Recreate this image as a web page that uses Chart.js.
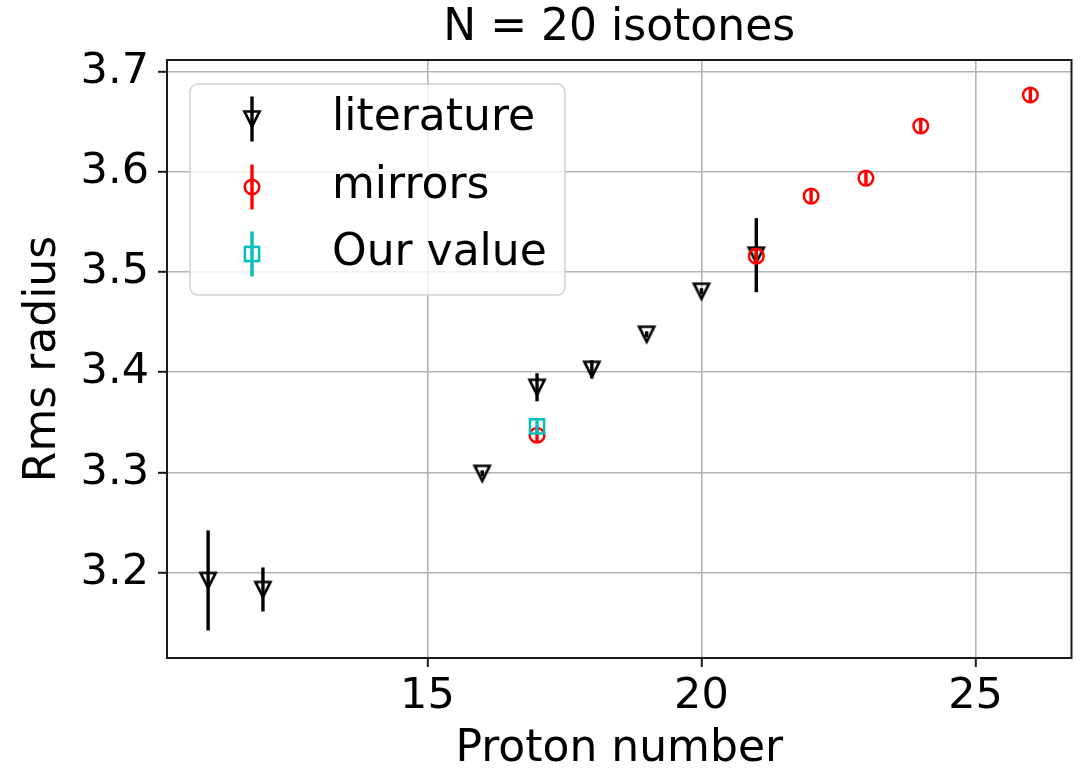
<!DOCTYPE html>
<html>
<head>
<meta charset="utf-8">
<title>N = 20 isotones</title>
<script src="https://cdn.jsdelivr.net/npm/chart.js@4.4.1/dist/chart.umd.min.js"></script>
<style>
  html, body { margin: 0; padding: 0; background: #ffffff; }
  #wrap { width: 1084px; height: 771px; position: relative; }
</style>
</head>
<body>
<div id="wrap"><canvas id="chart" width="1084" height="771"></canvas></div>
<script>
// Literature charge radii along the N = 20 chain
const litZ   = [11, 12, 16, 17, 18, 19, 20, 21];
const litR   = [3.192, 3.183, 3.299, 3.385, 3.403, 3.438, 3.481, 3.517];
const litErr = [0.050, 0.022, 0.003, 0.014, 0.009, 0.003, 0.003, 0.037];

// Radii of the mirror nuclei
const mirZ   = [17, 21, 22, 23, 24, 26];
const mirR   = [3.337, 3.516, 3.576, 3.594, 3.646, 3.677];
const mirErr = [0.006, 0.006, 0.006, 0.006, 0.006, 0.006];

// This work
const ourZ   = [17];
const ourR   = [3.346];
const ourErr = [0.006];

// Axis ticks
const xTicks = [15, 20, 25];
const yTicks = [3.2, 3.3, 3.4, 3.5, 3.6, 3.7];

const FONT = "'DejaVu Sans', sans-serif";

// Downward triangle marker (square bounding box, like a 'v' marker)
function triangleDown(color, half, lw) {
  const size = Math.ceil(2 * half + lw + 4);
  const c = document.createElement('canvas');
  c.width = size; c.height = size;
  const g = c.getContext('2d');
  const m = size / 2;
  g.strokeStyle = color;
  g.lineWidth = lw;
  g.lineJoin = 'miter';
  g.beginPath();
  g.moveTo(m - half, m - half);
  g.lineTo(m + half, m - half);
  g.lineTo(m, m + half);
  g.closePath();
  g.stroke();
  return c;
}
const triMarker = triangleDown('#000000', 7.5, 2.7);

function pts(xs, ys) { return xs.map((x, i) => ({ x: x, y: ys[i] })); }

const errors = [litErr, mirErr, ourErr];

// Vertical error bars, drawn under each dataset's markers
const errorBars = {
  id: 'errorBars',
  beforeDatasetDraw(chart, args) {
    const idx = args.index;
    const ds = chart.data.datasets[idx];
    const err = errors[idx];
    const xs = chart.scales.x, ys = chart.scales.y;
    const ctx = chart.ctx;
    ctx.save();
    ctx.strokeStyle = ds.errColor;
    ctx.lineWidth = 3.4;
    ctx.lineCap = 'butt';
    ds.data.forEach((p, i) => {
      const px = xs.getPixelForValue(p.x);
      ctx.beginPath();
      ctx.moveTo(px, ys.getPixelForValue(p.y - err[i]));
      ctx.lineTo(px, ys.getPixelForValue(p.y + err[i]));
      ctx.stroke();
    });
    ctx.restore();
  }
};

// Full box around the plotting area
const frame = {
  id: 'frame',
  afterDraw(chart) {
    const a = chart.chartArea, ctx = chart.ctx;
    ctx.save();
    ctx.strokeStyle = '#1a1a1a';
    ctx.lineWidth = 2;
    ctx.strokeRect(a.left, a.top, a.right - a.left, a.bottom - a.top);
    ctx.restore();
  }
};

// Legend box in the upper-left corner of the axes
const boxLegend = {
  id: 'boxLegend',
  afterDraw(chart) {
    const ctx = chart.ctx;
    const a = chart.chartArea;
    const bx = a.left + 23, by = a.top + 24, bw = 375, bh = 211;
    ctx.save();
    ctx.beginPath();
    ctx.roundRect(bx, by, bw, bh, 8);
    ctx.fillStyle = 'rgba(255,255,255,0.8)';
    ctx.fill();
    ctx.strokeStyle = 'rgba(204,204,204,0.9)';
    ctx.lineWidth = 1.5;
    ctx.stroke();

    const mx = bx + 62, tx = bx + 142;
    const rows = [by + 35, by + 103, by + 170];
    ctx.font = '44px ' + FONT;
    ctx.textBaseline = 'middle';
    ctx.fillStyle = '#000000';
    chart.data.datasets.forEach((ds, i) => {
      const cy = rows[i];
      ctx.strokeStyle = ds.errColor;
      ctx.lineWidth = 3.4;
      ctx.beginPath();
      ctx.moveTo(mx, cy - 22.5);
      ctx.lineTo(mx, cy + 22.5);
      ctx.stroke();
      if (ds.pointStyle instanceof HTMLCanvasElement) {
        const s = ds.pointStyle;
        ctx.drawImage(s, mx - s.width / 2, cy - s.height / 2);
      } else if (ds.pointStyle === 'circle') {
        ctx.lineWidth = ds.pointBorderWidth;
        ctx.beginPath();
        ctx.arc(mx, cy, ds.pointRadius, 0, Math.PI * 2);
        ctx.stroke();
      } else {
        const h = ds.pointRadius * Math.SQRT1_2;
        ctx.lineWidth = ds.pointBorderWidth;
        ctx.strokeRect(mx - h, cy - h, 2 * h, 2 * h);
      }
      ctx.fillStyle = '#000000';
      ctx.fillText(ds.label, tx, cy);
    });
    ctx.restore();
  }
};

const chart = new Chart(document.getElementById('chart'), {
  type: 'scatter',
  data: {
    datasets: [
      {
        label: 'literature',
        data: pts(litZ, litR),
        pointStyle: triMarker,
        errColor: '#000000',
        borderColor: '#000000',
        backgroundColor: 'rgba(0,0,0,0)',
        pointRadius: 8,
        pointBorderWidth: 2.7,
        order: 3
      },
      {
        label: 'mirrors',
        data: pts(mirZ, mirR),
        pointStyle: 'circle',
        errColor: '#ff0000',
        borderColor: '#ff0000',
        backgroundColor: 'rgba(0,0,0,0)',
        pointRadius: 7.3,
        pointBorderWidth: 2.5,
        order: 2
      },
      {
        label: 'Our value',
        data: pts(ourZ, ourR),
        pointStyle: 'rect',
        errColor: '#00bfbf',
        borderColor: '#00bfbf',
        backgroundColor: 'rgba(0,0,0,0)',
        pointRadius: 10,
        pointBorderWidth: 2.5,
        order: 1
      }
    ]
  },
  options: {
    responsive: false,
    animation: false,
    events: [],
    layout: { padding: { left: 0, right: 9, top: 0, bottom: 0 } },
    plugins: {
      legend: { display: false },
      tooltip: { enabled: false },
      title: {
        display: true,
        text: 'N = 20 isotones',
        color: '#000000',
        fullSize: false,
        font: { family: FONT, size: 44, weight: 'normal', lineHeight: 1.2 },
        padding: { top: 2, bottom: 5.2 }
      }
    },
    scales: {
      x: {
        type: 'linear',
        min: 10.25,
        max: 26.75,
        afterBuildTicks(s) { s.ticks = xTicks.map(v => ({ value: v })); },
        afterFit(s) { s.height = 113; },
        ticks: {
          color: '#000000',
          font: { family: FONT, size: 43 },
          padding: 4,
          maxRotation: 0,
          callback: v => String(v)
        },
        grid: { color: '#b4b4b4', lineWidth: 1.6, tickColor: '#1a1a1a', tickWidth: 2, tickLength: 9 },
        border: { display: false },
        title: {
          display: true,
          text: 'Proton number',
          color: '#000000',
          font: { family: FONT, size: 44, lineHeight: 0.96 },
          padding: { top: 0, bottom: 0 }
        }
      },
      y: {
        type: 'linear',
        min: 3.1145,
        max: 3.712,
        afterBuildTicks(s) { s.ticks = yTicks.map(v => ({ value: v })); },
        afterFit(s) { s.width = 167; },
        ticks: {
          color: '#000000',
          font: { family: FONT, size: 43 },
          padding: 9,
          callback: v => v.toFixed(1)
        },
        grid: { color: '#b4b4b4', lineWidth: 1.6, tickColor: '#1a1a1a', tickWidth: 2, tickLength: 9 },
        border: { display: false },
        title: {
          display: true,
          text: 'Rms radius',
          color: '#000000',
          font: { family: FONT, size: 44, lineHeight: 1.2 },
          padding: { top: 17, bottom: 0 }
        }
      }
    }
  },
  plugins: [errorBars, frame, boxLegend]
});
</script>
</body>
</html>
